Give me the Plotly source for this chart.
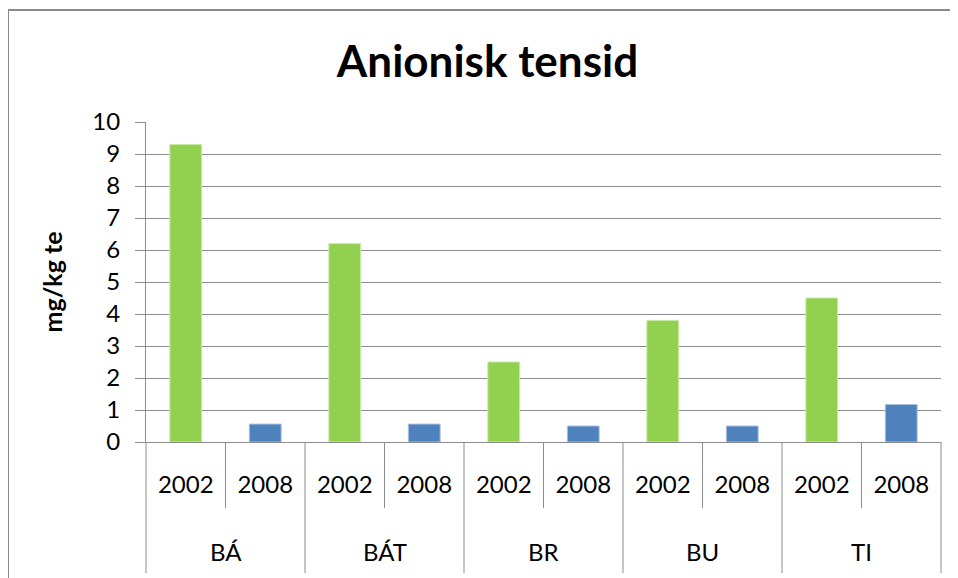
import plotly.graph_objects as go

sites = ["BÁ", "BÁT", "BR", "BU", "TI"]
years = ["2002", "2008"]
values_2002 = [9.3, 6.2, 2.5, 3.8, 4.5]
values_2008 = [0.56, 0.56, 0.5, 0.5, 1.17]
y_ticks = list(range(0, 11))

n_years = len(years)
n_cat = len(sites) * n_years
x_2002 = [i * n_years for i in range(len(sites))]
x_2008 = [i * n_years + 1 for i in range(len(sites))]

GREEN = "#92D050"
BLUE = "#4F81BD"
GRID = "#8C8C8C"
FONT = "Lato"

fig = go.Figure()
fig.add_trace(go.Bar(x=x_2002, y=values_2002, width=0.4, marker=dict(color=GREEN, line=dict(color="#C8EAA0", width=1)), name="2002"))
fig.add_trace(go.Bar(x=x_2008, y=values_2008, width=0.4, marker=dict(color=BLUE, line=dict(color="#A9C0DE", width=1)), name="2008"))

# page body has an 8px margin; work in reference pixels and shift by OFF
OFF = 8
W, H = 958 - OFF, 578 - OFF
L, R, T, B = 146 - OFF, 958 - 941, 122 - OFF, 578 - 442
plot_h = H - T - B
plot_w = W - L - R

def py(pix):
    return (442 - pix) / plot_h

def px(pix):
    return (pix - 146) / plot_w

shapes = []
for k in range(n_cat + 1):
    xp = k / n_cat
    bottom = py(573) if k % n_years == 0 else py(508)
    shapes.append(dict(type="line", xref="paper", yref="paper", x0=xp, x1=xp, y0=0, y1=bottom,
                       line=dict(color=GRID, width=1)))
# chart border (container frame)
shapes.append(dict(type="rect", xref="paper", yref="paper", x0=px(8), x1=px(990), y0=py(10), y1=py(620),
                   line=dict(color="#8A8A8A", width=2), fillcolor="rgba(0,0,0,0)", layer="below"))

annotations = []
for i, s in enumerate(sites):
    annotations.append(dict(text=s, x=(i * n_years + (n_years - 1) / 2 + 0.5) / n_cat, xref="paper",
                            y=py(551), yref="paper", showarrow=False, xanchor="center", yanchor="middle",
                            font=dict(family=FONT, size=24, color="#000000")))

fig.update_layout(
    width=W, height=H,
    margin=dict(l=L, r=R, t=T, b=B, pad=0),
    paper_bgcolor="white", plot_bgcolor="white",
    barmode="overlay",
    showlegend=False,
    title=dict(text="<b>Anionisk tensid</b>", x=px(487.5), xref="paper", xanchor="center",
               y=1 - (62 - OFF) / H, yanchor="middle", font=dict(family=FONT, size=44, color="#000000")),
    xaxis=dict(range=[-0.5, n_cat - 0.5], tickvals=list(range(n_cat)), ticktext=years * len(sites),
               ticks="", showgrid=False, zeroline=False, showline=True, linecolor=GRID, linewidth=1,
               tickfont=dict(family=FONT, size=24, color="#000000"), ticklabelstandoff=21),
    yaxis=dict(range=[0, 10], tickvals=y_ticks, ticks="outside", ticklen=10, tickcolor=GRID, tickwidth=1,
               showgrid=True, gridcolor=GRID, gridwidth=1, zeroline=False, showline=True, linecolor=GRID,
               linewidth=1, tickfont=dict(family=FONT, size=24, color="#000000"), ticklabelstandoff=10,
               title=dict(text="<b>mg/kg te</b>", font=dict(family=FONT, size=25, color="#000000"), standoff=22)),
    shapes=shapes,
    annotations=annotations,
)

fig.write_html("out.html")
